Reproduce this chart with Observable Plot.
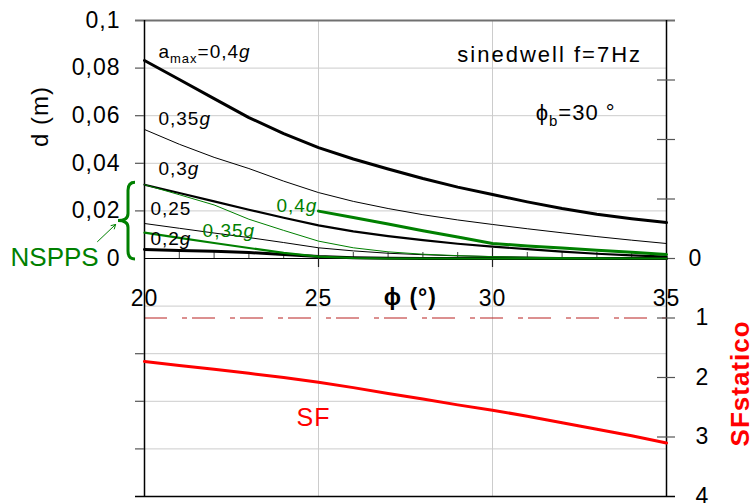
<!DOCTYPE html>
<html>
<head>
<meta charset="utf-8">
<script src="https://cdn.jsdelivr.net/npm/d3@7"></script>
<script src="https://cdn.jsdelivr.net/npm/@observablehq/plot@0.6"></script>
<style>
  html, body { margin: 0; padding: 0; background: #fff; }
  #chart { width: 755px; height: 503px; }
</style>
</head>
<body>
<div id="chart"></div>
<script>
// ---- data ----
const phi   = [20, 21, 22, 23, 24, 25, 26, 27, 28, 29, 30, 31, 32, 33, 34, 35];
// sliding displacement d (m), sinedwell 7 Hz, phi_b = 30°
const d040  = [0.0832, 0.0752, 0.0672, 0.0592, 0.0525, 0.0466, 0.0418, 0.0376, 0.0336, 0.0300, 0.0269, 0.0238, 0.0210, 0.0186, 0.0167, 0.0151];
const d035  = [0.0542, 0.0480, 0.0425, 0.0378, 0.0325, 0.0277, 0.0240, 0.0210, 0.0184, 0.0162, 0.0143, 0.0125, 0.0108, 0.0092, 0.0077, 0.0063];
const d030  = [0.0310, 0.0275, 0.0240, 0.0205, 0.0171, 0.0139, 0.0114, 0.0094, 0.0077, 0.0062, 0.0050, 0.0039, 0.0029, 0.0020, 0.0013, 0.0008];
const d025  = [0.0147, 0.0127, 0.0107, 0.0088, 0.0067, 0.0045, 0.0032, 0.0022, 0.0016, 0.0011, 0.0008, 0.0006, 0.0004, 0.0003, 0.0002, 0.0001];
const d020  = [0.0038, 0.0034, 0.0030, 0.0025, 0.0017, 0.0008, 0.0003, 0.0001, 0, 0, 0, 0, 0, 0, 0, 0];
// NSPPS series (green)
const n040  = [null, null, null, null, null, 0.0199, 0.0172, 0.0145, 0.0117, 0.0090, 0.0063, 0.0053, 0.0044, 0.0035, 0.0026, 0.0017];
const n035  = [0.0310, 0.0268, 0.0225, 0.0165, 0.0118, 0.0073, 0.0045, 0.0028, 0.0018, 0.0012, 0.0008, 0.0005, 0.0003, 0.0002, 0.0001, 0];
const n030  = [0.0109, 0.0087, 0.0065, 0.0044, 0.0024, 0.0008, 0.0002, 0, 0, 0, 0, 0, 0, 0, 0, 0];
// static safety factor
const sfStatic = [1.73, 1.80, 1.86, 1.93, 2.00, 2.08, 2.17, 2.27, 2.36, 2.46, 2.55, 2.65, 2.76, 2.87, 2.98, 3.10];

// ---- ticks / labels ----
const xTickLabels = [20, 25, 30, 35];
const xMajor = [25, 30];
const xMinor = [21, 22, 23, 24, 26, 27, 28, 29, 31, 32, 33, 34];
const yGrid = [0.08, 0.06, 0.04, 0.02, -0.02, -0.04, -0.06, -0.08];
const yLeftTicks = [0.08, 0.06, 0.04, 0.02, -0.04, -0.06, -0.08];
const yLeftLabels = [0.1, 0.08, 0.06, 0.04, 0.02, 0];
const sfTicks = [-3, -2, -1, 0, 1, 2, 3];
const sfLabels = [1, 2, 3, 4];
const sfUnit = 0.025; // the SF axis shares the frame: 1 SF unit = 0.025 m, downward

const blackLabels = [
  {t: "a_{max}=0,4*g*", x: 20.4, y: 0.0866},
  {t: "0,35*g*", x: 20.4, y: 0.0588},
  {t: "0,3*g*", x: 20.4, y: 0.0378},
  {t: "0,25", x: 20.17, y: 0.021},
  {t: "0,2*g*", x: 20.17, y: 0.0084}
];
const greenLabels = [
  {t: "0,35*g*", x: 21.67, y: 0.0118},
  {t: "0,4*g*", x: 23.79, y: 0.0223}
];
const infoLabels = [
  {t: "sinedwell f=7Hz", x: 28.99, y: 0.0857},
  {t: "ϕ_{b}=30 °", x: 31.24, y: 0.0613}
];

const GREEN = "#008000";
const rows = arr => phi.map((p, i) => ({p, v: arr[i]}));
const series = [
  {a: d035, c: "black", w: 1},
  {a: d025, c: "black", w: 1},
  {a: d030, c: "black", w: 2.2},
  {a: d020, c: "black", w: 3},
  {a: d040, c: "black", w: 3},
  {a: n035, c: GREEN, w: 1},
  {a: n030, c: GREEN, w: 2.2},
  {a: n040, c: GREEN, w: 3}
];
const fmt = d => d === 0 ? "0" : String(d).replace(".", ",");

const plot = Plot.plot({
  width: 755,
  height: 503,
  marginLeft: 144,
  marginRight: 89,
  marginTop: 20,
  marginBottom: 7,
  x: {domain: [20, 35], axis: null},
  y: {domain: [-0.1, 0.1], axis: null},
  style: {fontFamily: "'Liberation Sans', Arial, Helvetica, sans-serif", background: "white", overflow: "visible", letterSpacing: "1px"},
  marks: [
    Plot.ruleY(yGrid, {stroke: "#cccccc", strokeWidth: 1}),
    Plot.ruleX(xMajor, {stroke: "#cccccc", strokeWidth: 1}),
    // SF = 1 reference
    Plot.ruleY([1], {y: s => -s * sfUnit, stroke: "#b82020", strokeWidth: 1, strokeDasharray: "23,15,5,5"}),
    // frame
    Plot.ruleY([0.1], {stroke: "#707070", strokeWidth: 2, insetLeft: -9, insetRight: -9}),
    Plot.ruleY([-0.1], {stroke: "black", strokeWidth: 1.5, insetLeft: -9, insetRight: -9}),
    Plot.ruleX([20, 35], {stroke: "black", strokeWidth: 1.5}),
    Plot.ruleY([0], {stroke: "black", strokeWidth: 1}),
    // ticks
    Plot.ruleY(yLeftTicks, {stroke: "#555", strokeWidth: 1.2, insetLeft: -9, insetRight: 522}),
    Plot.ruleY(sfTicks, {y: s => -s * sfUnit, stroke: "#555", strokeWidth: 1.2, insetLeft: 513, insetRight: -9}),
    Plot.ruleX(xMinor, {stroke: "#444", strokeWidth: 1, insetTop: 232, insetBottom: 238}),
    Plot.ruleX(xMajor, {stroke: "#222", strokeWidth: 1.2, insetTop: 228, insetBottom: 229}),
    // curves
    ...series.map(s => Plot.line(rows(s.a), {x: "p", y: "v", stroke: s.c, strokeWidth: s.w})),
    Plot.line(rows(sfStatic), {x: "p", y: d => -d.v * sfUnit, stroke: "#ff0000", strokeWidth: 3}),
    // axis labels
    Plot.text(yLeftLabels, {y: d => d, text: fmt, frameAnchor: "left", dx: -24, textAnchor: "end", fontSize: 23}),
    Plot.text(["0"], {y: () => 0, text: d => d, frameAnchor: "right", dx: 22, textAnchor: "start", fontSize: 23}),
    Plot.text(sfLabels, {y: s => -s * sfUnit, text: d => String(d), frameAnchor: "right", dx: 29, textAnchor: "start", fontSize: 23}),
    Plot.text(xTickLabels, {x: d => d, y: () => 0, text: d => String(d), dy: 40, fontSize: 23}),
    Plot.text(["ϕ (°)"], {x: () => 27.64, y: () => 0, text: d => d, dy: 39, fontSize: 23, fontWeight: "bold"}),
    Plot.text(["d (m)"], {y: () => 0.0597, text: d => d, frameAnchor: "left", dx: -104, textAnchor: "middle", rotate: -90, fontSize: 24}),
    Plot.text(["SFstatico"], {y: () => -0.0525, text: d => d, frameAnchor: "right", dx: 74, textAnchor: "middle", rotate: -90, fontSize: 26, fontWeight: "bold", fill: "#ff0000"}),
    // annotations
    Plot.text(blackLabels, {x: "x", y: "y", text: "t", textAnchor: "start", fontSize: 19, fill: "black"}),
    Plot.text(greenLabels, {x: "x", y: "y", text: "t", textAnchor: "start", fontSize: 19, fill: GREEN}),
    Plot.text(infoLabels, {x: "x", y: "y", text: "t", textAnchor: "start", fontSize: 22, fill: "black"}),
    Plot.text(["SF"], {x: () => 24.37, y: () => -0.0672, text: d => d, textAnchor: "start", fontSize: 25, fill: "#ff0000"}),
    Plot.text(["NSPPS"], {x: () => 16.15, y: () => 0.0004, text: d => d, textAnchor: "start", fontSize: 26, fill: GREEN}),
    Plot.arrow([{x1: 18.65, y1: 0.0071, x2: 19.17, y2: 0.0143}], {x1: "x1", y1: "y1", x2: "x2", y2: "y2", stroke: GREEN, strokeWidth: 1, headLength: 7})
  ]
});

document.getElementById("chart").appendChild(plot);

// rich text: _{sub} and *italic*
const NS = "http://www.w3.org/2000/svg";
plot.querySelectorAll("text").forEach(t => {
  const s = t.textContent;
  if (s === "NSPPS") t.setAttribute("letter-spacing", "0");
  if (s.startsWith("sinedwell")) t.setAttribute("letter-spacing", "2");
  if (!/_\{|\*/.test(s)) return;
  const fs = parseFloat(getComputedStyle(t).fontSize) || 18;
  t.textContent = "";
  const parts = s.split(/(_\{[^}]*\}|\*[^*]*\*)/).filter(p => p);
  let shift = 0;
  for (const p of parts) {
    const ts = document.createElementNS(NS, "tspan");
    if (p.startsWith("_{")) {
      ts.textContent = p.slice(2, -1);
      ts.setAttribute("font-size", Math.round(fs * 0.68));
      const dy = Math.round(fs * 0.25);
      ts.setAttribute("dy", dy - shift);
      shift = dy;
    } else {
      const it = p.startsWith("*");
      ts.textContent = it ? p.slice(1, -1) : p;
      if (it) ts.setAttribute("font-style", "italic");
      if (shift) { ts.setAttribute("dy", -shift); shift = 0; }
    }
    t.appendChild(ts);
  }
});

// NSPPS brace, placed through the scales
const xs = plot.scale("x"), ys = plot.scale("y");
const sx = d3.scaleLinear(xs.domain, xs.range);
const sy = d3.scaleLinear(ys.domain, ys.range);
const x0 = sx(20);
const y0 = sy(n035[0]) - 2, y1 = sy(0) + 1, ym = (y0 + y1) / 2;
const xe = x0 - 9, xb = x0 - 16, xt = x0 - 26;
const path = document.createElementNS(NS, "path");
path.setAttribute("d",
  `M${xe},${y0} Q${xb},${y0} ${xb},${y0 + 8} L${xb},${ym - 7} Q${xb},${ym} ${xt},${ym} ` +
  `Q${xb},${ym} ${xb},${ym + 7} L${xb},${y1 - 8} Q${xb},${y1} ${xe},${y1}`);
path.setAttribute("fill", "none");
path.setAttribute("stroke", GREEN);
path.setAttribute("stroke-width", 3);
plot.appendChild(path);
</script>
</body>
</html>
